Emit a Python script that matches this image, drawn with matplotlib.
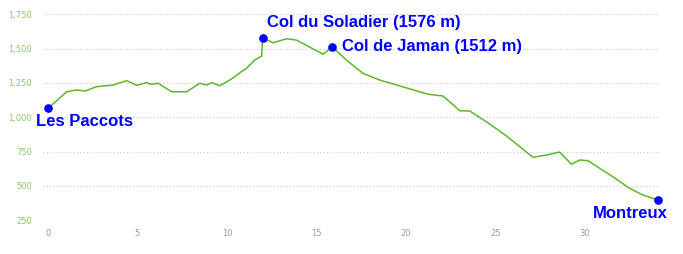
import numpy as np
import matplotlib
matplotlib.use("Agg")
import matplotlib.pyplot as plt
from matplotlib.ticker import FuncFormatter

# === data ===
dist_km = [0.0, 1.04, 1.60, 2.07, 2.72, 3.65, 4.40, 4.96, 5.51, 5.79, 6.16, 6.91,
           7.75, 8.49, 8.87, 9.15, 9.61, 10.26, 10.73, 11.10, 11.56, 11.94, 12.0,
           12.59, 13.34, 13.89, 15.38, 15.9, 16.69, 17.61, 18.55, 21.25, 22.08,
           23.02, 23.58, 24.69, 25.63, 27.11, 27.86, 28.60, 29.26, 29.72, 30.18,
           31.58, 32.51, 33.26, 34.1]
elev_m = [1065, 1186, 1199, 1191, 1223, 1235, 1267, 1233, 1252, 1240, 1248, 1186,
          1186, 1248, 1235, 1252, 1230, 1279, 1325, 1357, 1418, 1446, 1576,
          1543, 1572, 1562, 1460, 1512, 1416, 1320, 1271, 1168, 1155,
          1048, 1046, 951, 864, 709, 725, 747, 658, 689, 684,
          567, 483, 434, 398]

place_names = ["Les Paccots", "Col du Soladier (1576 m)", "Col de Jaman (1512 m)", "Montreux"]
place_km = [0.0, 12.0, 15.9, 34.1]
place_elev = [1065, 1576, 1512, 398]
# offsets in points, alignment
place_offsets = [((-9, -4), "left", "top"),
                 ((3, 11), "left", "center"),
                 ((7, 0), "left", "center"),
                 ((7, -10), "right", "center")]

y_ticks = [250, 500, 750, 1000, 1250, 1500, 1750]
x_ticks = [0, 5, 10, 15, 20, 25, 30]

# === figure ===
fig = plt.figure(figsize=(6.83, 2.54), dpi=100)
ax = fig.add_axes([43 / 683, 33.7 / 254, (658 - 43) / 683, (220.3 - 14.3) / 254])

ax.plot(dist_km, elev_m, color="#5cb82a", lw=1.1, zorder=3)
ax.plot(place_km, place_elev, "o", color="#0000ff", ms=5.2, zorder=4, clip_on=False)

for name, x, y, (off, ha, va) in zip(place_names, place_km, place_elev, place_offsets):
    ax.annotate(name, (x, y), xytext=off, textcoords="offset points",
                ha=ha, va=va, color="#0000ff", fontsize=12, fontweight="bold",
                family="Liberation Sans", annotation_clip=False)

ax.set_xlim(-0.28, 34.1)
ax.set_ylim(250, 1750)
ax.set_yticks(y_ticks)
ax.set_xticks(x_ticks)
ax.yaxis.set_major_formatter(FuncFormatter(lambda v, p: f"{int(v):,}"))

for v in y_ticks[1:]:
    ax.axhline(v, color="#c8c8c8", lw=0.8, ls=(0, (1, 2)), zorder=1)
ax.axhline(250, color="#a8c8ec", lw=0.8, ls=(0, (1, 1)), zorder=1)

for s in ax.spines.values():
    s.set_visible(False)
ax.tick_params(axis="both", length=0)
ax.tick_params(axis="y", labelsize=6, labelcolor="#8cc864", pad=8)
ax.tick_params(axis="x", labelsize=6, labelcolor="#999999", pad=6)

fig.savefig("out.png", dpi=100)
